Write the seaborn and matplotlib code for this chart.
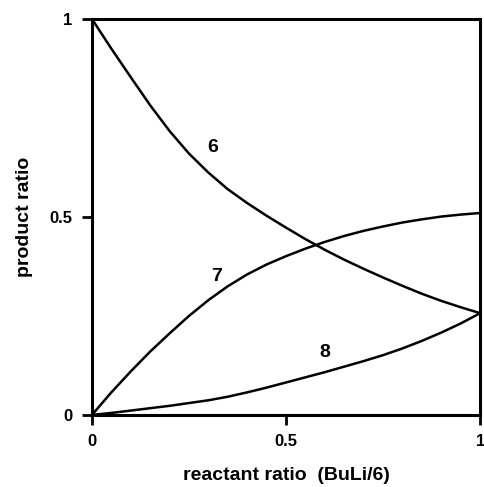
"""Product ratio vs reactant ratio (BuLi/6) for products 6, 7 and 8."""
import matplotlib
matplotlib.use("Agg")
import matplotlib.pyplot as plt
import pandas as pd
import seaborn as sns

# values
reactant_ratio = [0.0, 0.05, 0.1, 0.15, 0.2, 0.25, 0.3, 0.35, 0.4, 0.45, 0.5,
                  0.55, 0.6, 0.65, 0.7, 0.75, 0.8, 0.85, 0.9, 0.95, 1.0]
ratio_6 = [1.0, 0.925, 0.853, 0.782, 0.717, 0.66, 0.612, 0.57, 0.535, 0.503, 0.473,
           0.444, 0.417, 0.392, 0.369, 0.347, 0.326, 0.306, 0.288, 0.272, 0.257]
ratio_7 = [0.0, 0.057, 0.11, 0.16, 0.206, 0.25, 0.29, 0.325, 0.355, 0.38, 0.401,
           0.42, 0.437, 0.452, 0.465, 0.476, 0.486, 0.494, 0.501, 0.506, 0.51]
ratio_8 = [0.0, 0.005, 0.011, 0.017, 0.023, 0.030, 0.037, 0.046, 0.057, 0.069, 0.082,
           0.095, 0.108, 0.122, 0.136, 0.151, 0.168, 0.187, 0.208, 0.231, 0.257]

products = ["6", "7", "8"]
label_x = [0.31, 0.32, 0.60]
label_y = [0.675, 0.35, 0.157]

x_ticks = [0, 0.5, 1]
x_tick_labels = ["0", "0.5", "1"]
y_ticks = [0, 0.5, 1]
y_tick_labels = ["0", "0.5", "1"]

frame = pd.DataFrame({
    "reactant ratio": reactant_ratio * 3,
    "product ratio": ratio_6 + ratio_7 + ratio_8,
    "product": [p for p in products for _ in reactant_ratio],
})

sns.set_style("ticks")
plt.rcParams["font.family"] = ["Liberation Sans", "DejaVu Sans"]
plt.rcParams["text.color"] = "black"
plt.rcParams["axes.labelcolor"] = "black"
plt.rcParams["xtick.color"] = "black"
plt.rcParams["ytick.color"] = "black"

fig = plt.figure(figsize=(4.84, 4.87), dpi=100)
ax = fig.add_axes([0.190, 0.148, 0.802, 0.813])

sns.lineplot(data=frame, x="reactant ratio", y="product ratio", units="product",
             estimator=None, color="black", linewidth=1.8, ax=ax, legend=False)

for name, lx, ly in zip(products, label_x, label_y):
    ax.text(lx, ly, name, fontsize=14, fontweight="bold", ha="center", va="center")

ax.set_xlim(0, 1)
ax.set_ylim(0, 1)
ax.set_xticks(x_ticks, x_tick_labels)
ax.set_yticks(y_ticks, y_tick_labels)
ax.tick_params(direction="out", length=7, width=2, labelsize=12, pad=7)
for label in ax.get_xticklabels() + ax.get_yticklabels():
    label.set_fontweight("bold")
for spine in ax.spines.values():
    spine.set_visible(True)
    spine.set_linewidth(2.2)
    spine.set_color("black")

ax.set_xlabel("reactant ratio  (BuLi/6)", fontsize=14, fontweight="bold", labelpad=13)
ax.set_ylabel("product ratio", fontsize=14, fontweight="bold", labelpad=12)

fig.savefig("out.png", dpi=100)
